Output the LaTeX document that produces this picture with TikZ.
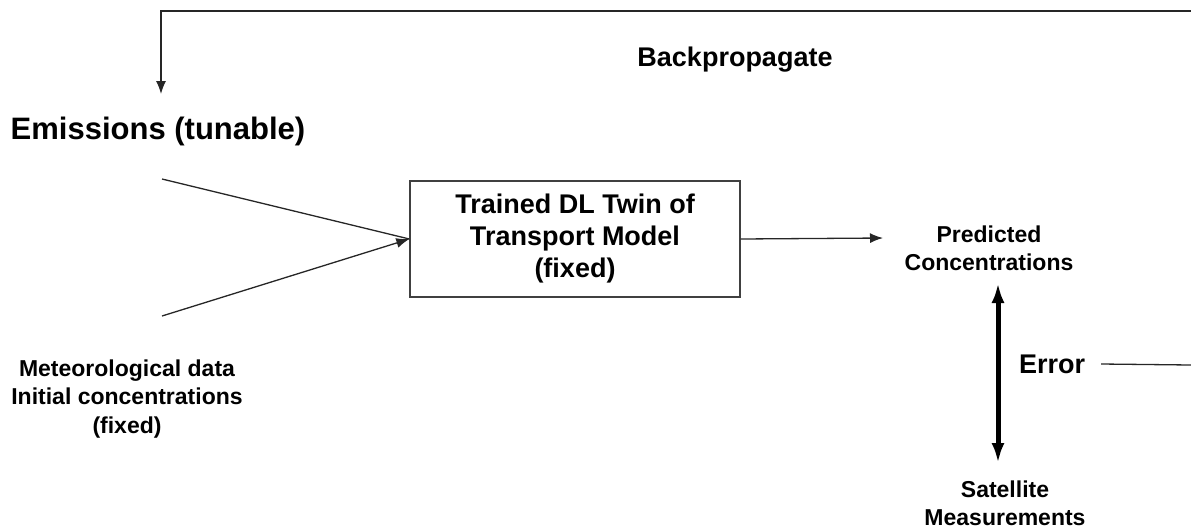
\documentclass[tikz,border=0pt]{standalone}
\usepackage{fontspec}
\setmainfont{Liberation Sans}
\usetikzlibrary{arrows.meta,calc}

\tikzset{
  lbl/.style={font=\bfseries, align=center, inner sep=2pt},
  thin line/.style={line width=1.3pt, draw=black!85},
  small tip/.style={-{Latex[length=13pt,width=10pt]}},
  big tip/.style={{Latex[length=20pt,width=13pt]}-{Latex[length=20pt,width=13pt]}, line width=5pt},
  modelbox/.style={draw=black!75, line width=1.3pt, minimum width=330pt, minimum height=116pt,
    font=\fontsize{27}{32}\bfseries, align=center}
}

\begin{document}
\begin{tikzpicture}[x=1pt, y=-1pt]
  \useasboundingbox (0,0) rectangle (1191,531);

  % labels
  \node[lbl, font=\fontsize{27}{32}\bfseries] (back) at (735,60) {Backpropagate};
  \node[lbl, font=\fontsize{31}{36}\bfseries] (emis) at (158,131) {Emissions (tunable)};
  \node[lbl, font=\fontsize{23}{28.5}\bfseries] (met) at (127,399)
    {Meteorological data\\Initial concentrations\\(fixed)};
  \node[lbl, font=\fontsize{23}{28}\bfseries] (pred) at (989,248) {Predicted\\Concentrations};
  \node[lbl, font=\fontsize{23}{28}\bfseries] (sat) at (1005,503) {Satellite\\Measurements};
  \node[lbl, font=\fontsize{27}{32}\bfseries] (err) at (1052,364) {Error};

  % the model block
  \node[modelbox] (twin) at (575,239) {Trained DL Twin of\\Transport Model\\(fixed)};

  % free ends of the connectors
  \coordinate (topR) at (1191,11);
  \coordinate (topL) at (161,11);
  \coordinate (down) at (161,94);
  \coordinate (inA) at (162,179);
  \coordinate (inB) at (162,316);
  \coordinate (outEnd) at (883,238);
  \coordinate (errA) at (998,283);
  \coordinate (errB) at (998,463);
  \coordinate (errR) at (1191,365);

  % backpropagation loop
  \draw[thin line, small tip] (topR) -- (topL) -- (down);

  % inputs into the model
  \draw[thin line] (inA) -- (twin.west);
  \draw[thin line, small tip] (inB) -- (twin.west);

  % model output
  \draw[thin line, small tip] (twin.east) -- (outEnd);

  % error between prediction and measurement
  \draw[big tip] (errA) -- (errB);
  \draw[thin line] ([xshift=14pt]err.east) -- (errR);
\end{tikzpicture}
\end{document}
